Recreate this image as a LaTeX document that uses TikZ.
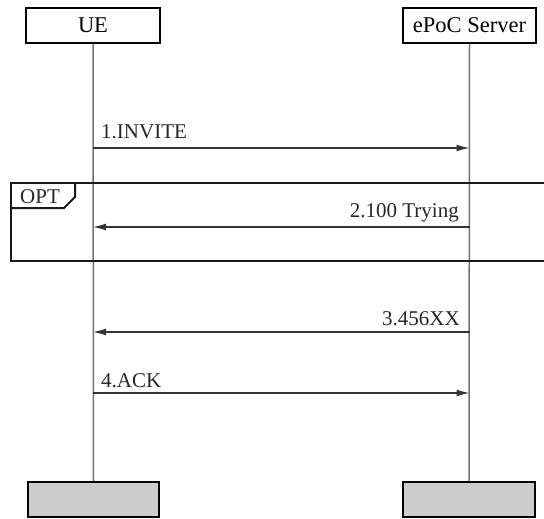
\documentclass[tikz,border=0pt]{standalone}
\usepackage{fontspec}
\setmainfont{Liberation Serif}
\usetikzlibrary{arrows.meta}
\begin{document}
\begin{tikzpicture}[x=1pt,y=-1pt,
  actor/.style={draw=black,line width=2pt,fill=white,inner sep=0pt,minimum height=35pt,font=\fontsize{22.5}{26}\selectfont},
  endbox/.style={draw=black,line width=2pt,fill=black!20,inner sep=0pt,minimum height=35pt},
  lifeline/.style={draw=black!55,line width=1.5pt},
  msg/.style={draw=black!80,line width=1.3pt,-{Latex[length=13pt,width=7pt]}},
  lbl/.style={inner sep=0pt,font=\fontsize{21}{24}\selectfont,text=black!85},
  frame/.style={draw=black!90,line width=2pt}]
\useasboundingbox (0,0) rectangle (544,519);
% actors
\node[actor,minimum width=134pt] (ue) at (93,25.5) {UE};
\node[actor,minimum width=133pt] (sv) at (469.5,25.5) {ePoC Server};
\node[endbox,minimum width=131pt] (ueb) at (93.5,499.5) {};
\node[endbox,minimum width=132pt] (svb) at (469,499.5) {};
% lifelines
\draw[lifeline] (ue.south) -- (ueb.north);
\draw[lifeline] (sv.south) -- (svb.north);
% OPT frame
\draw[frame] (11,183) rectangle (560,261);
\draw[frame] (11,208) -- (64,208) -- (75,197) -- (75,183);
\node[lbl,anchor=base west] (opt) at (20,203) {OPT};
% message points
\coordinate (u1) at (93,148);  \coordinate (s1) at (469.5,148);
\coordinate (u2) at (93,227);  \coordinate (s2) at (469.5,227);
\coordinate (u3) at (93,332);  \coordinate (s3) at (469.5,332);
\coordinate (u4) at (93,393);  \coordinate (s4) at (469.5,393);
% messages
\draw[msg] (u1) -- (s1);
\node[lbl,anchor=base west] (m1) at (101,139) {1.INVITE};
\draw[msg] (s2) -- (u2);
\node[lbl,anchor=base east] (m2) at (459,217) {2.100 Trying};
\draw[msg] (s3) -- (u3);
\node[lbl,anchor=base east] (m3) at (460,325) {3.456XX};
\draw[msg] (u4) -- (s4);
\node[lbl,anchor=base west] (m4) at (101,387) {4.ACK};
\end{tikzpicture}
\end{document}
